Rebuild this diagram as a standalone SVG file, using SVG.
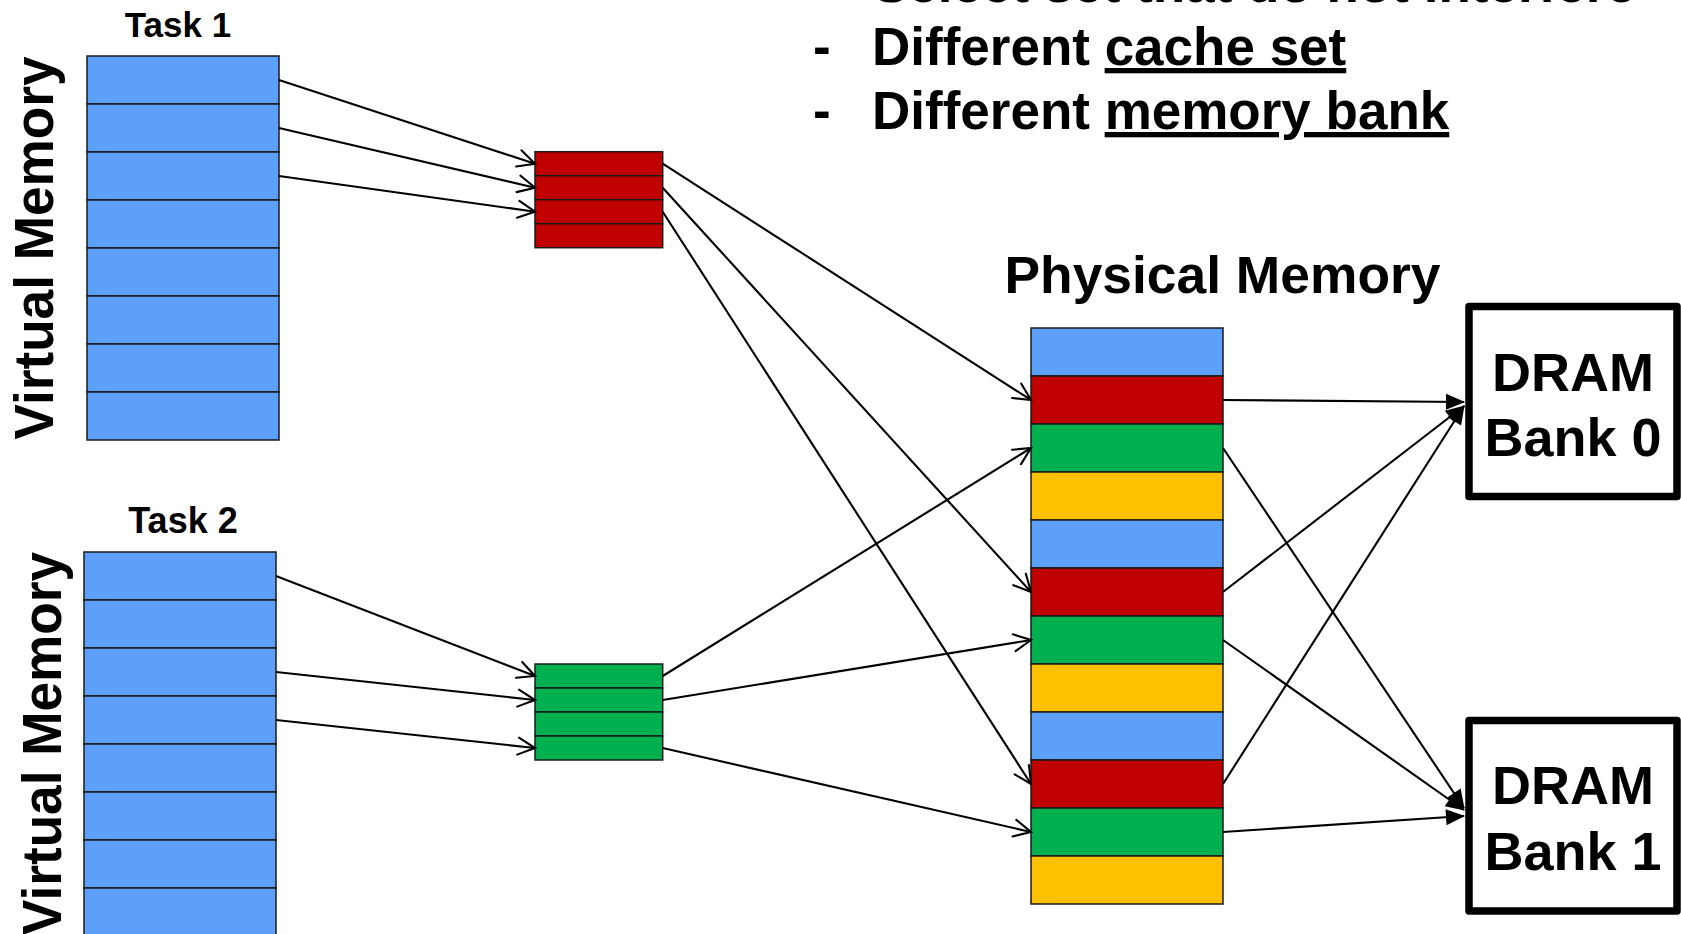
<svg xmlns="http://www.w3.org/2000/svg" width="1681" height="934" viewBox="0 0 1681 934">
  <style>
    .lbl { font-family: "Liberation Sans", Arial, sans-serif; font-weight: bold; fill: #000; }
    .blue { fill: #5CA0FC; }
    .red { fill: #C00000; }
    .green { fill: #00B050; }
    .yellow { fill: #FFC000; }
    .cell { stroke: #1a1a1a; stroke-width: 1.5; }
    .wire { fill: none; stroke: #000; stroke-width: 2.1; }
    .open { marker-end: url(#arrowOpen); }
    .solid { marker-end: url(#arrowSolid); }
    .bank { fill: #fff; stroke: #000; stroke-width: 7.5; stroke-linejoin: round; }
  </style>
  <defs>
    <marker id="arrowOpen" markerUnits="userSpaceOnUse" viewBox="-20 -11 23 22" refX="0" refY="0" markerWidth="23" markerHeight="22" orient="auto">
      <path d="M-17,-8.5 L0,0 L-17,8.5" fill="none" stroke="#000" stroke-width="2.1" stroke-linecap="round"/>
    </marker>
    <marker id="arrowSolid" markerUnits="userSpaceOnUse" viewBox="-20 -10 22 20" refX="0" refY="0" markerWidth="22" markerHeight="20" orient="auto">
      <path d="M-18,-8 L1,0 L-18,8 Z" fill="#000"/>
    </marker>
  </defs>

  <rect width="1681" height="934" fill="#fff"/>

  <!-- bullet text -->
  <g id="notes">
    <text class="lbl" x="873" y="1.5" font-size="53">Select set that do not interfere</text>
    <text class="lbl" x="813" y="65" font-size="53">-</text>
    <text class="lbl" x="872" y="65" font-size="53">Different <tspan text-decoration="underline">cache set</tspan></text>
    <text class="lbl" x="813" y="129" font-size="53">-</text>
    <text class="lbl" x="872" y="129" font-size="53">Different <tspan text-decoration="underline">memory bank</tspan></text>
  </g>

  <!-- Task 1 virtual memory -->
  <g id="task1">
    <text class="lbl" x="178" y="36.5" font-size="35" text-anchor="middle">Task 1</text>
    <text class="lbl" font-size="55" text-anchor="middle" textLength="383" lengthAdjust="spacingAndGlyphs" transform="translate(53 248) rotate(-90)">Virtual Memory</text>
    <g class="blue cell">
      <rect x="87" y="56" width="192" height="48"/>
      <rect x="87" y="104" width="192" height="48"/>
      <rect x="87" y="152" width="192" height="48"/>
      <rect x="87" y="200" width="192" height="48"/>
      <rect x="87" y="248" width="192" height="48"/>
      <rect x="87" y="296" width="192" height="48"/>
      <rect x="87" y="344" width="192" height="48"/>
      <rect x="87" y="392" width="192" height="48"/>
    </g>
  </g>

  <!-- Task 2 virtual memory -->
  <g id="task2">
    <text class="lbl" x="183" y="533" font-size="36" text-anchor="middle">Task 2</text>
    <text class="lbl" font-size="55" text-anchor="middle" textLength="383" lengthAdjust="spacingAndGlyphs" transform="translate(60.5 743.5) rotate(-90)">Virtual Memory</text>
    <g class="blue cell">
      <rect x="84" y="552" width="192" height="48"/>
      <rect x="84" y="600" width="192" height="48"/>
      <rect x="84" y="648" width="192" height="48"/>
      <rect x="84" y="696" width="192" height="48"/>
      <rect x="84" y="744" width="192" height="48"/>
      <rect x="84" y="792" width="192" height="48"/>
      <rect x="84" y="840" width="192" height="48"/>
      <rect x="84" y="888" width="192" height="48"/>
    </g>
  </g>

  <!-- cache sets -->
  <g id="cacheRed" class="red cell">
    <rect x="535" y="151.7" width="127.7" height="24"/>
    <rect x="535" y="175.7" width="127.7" height="24"/>
    <rect x="535" y="199.7" width="127.7" height="24"/>
    <rect x="535" y="223.7" width="127.7" height="24"/>
  </g>
  <g id="cacheGreen" class="green cell">
    <rect x="535" y="664" width="127.7" height="24"/>
    <rect x="535" y="688" width="127.7" height="24"/>
    <rect x="535" y="712" width="127.7" height="24"/>
    <rect x="535" y="736" width="127.7" height="24"/>
  </g>

  <!-- physical memory -->
  <g id="physical">
    <text class="lbl" x="1004.5" y="293" font-size="51" textLength="436" lengthAdjust="spacingAndGlyphs">Physical Memory</text>
    <g class="cell">
      <rect class="blue" x="1031" y="328" width="192" height="48"/>
      <rect class="red" x="1031" y="376" width="192" height="48"/>
      <rect class="green" x="1031" y="424" width="192" height="48"/>
      <rect class="yellow" x="1031" y="472" width="192" height="48"/>
      <rect class="blue" x="1031" y="520" width="192" height="48"/>
      <rect class="red" x="1031" y="568" width="192" height="48"/>
      <rect class="green" x="1031" y="616" width="192" height="48"/>
      <rect class="yellow" x="1031" y="664" width="192" height="48"/>
      <rect class="blue" x="1031" y="712" width="192" height="48"/>
      <rect class="red" x="1031" y="760" width="192" height="48"/>
      <rect class="green" x="1031" y="808" width="192" height="48"/>
      <rect class="yellow" x="1031" y="856" width="192" height="48"/>
    </g>
  </g>

  <!-- DRAM banks -->
  <g id="bank0">
    <rect class="bank" x="1469" y="306.5" width="208" height="190"/>
    <text class="lbl" x="1573" y="391" font-size="54" text-anchor="middle">DRAM</text>
    <text class="lbl" x="1573" y="456" font-size="54" text-anchor="middle">Bank 0</text>
  </g>
  <g id="bank1">
    <rect class="bank" x="1469" y="720.5" width="208" height="190.5"/>
    <text class="lbl" x="1573" y="804" font-size="54" text-anchor="middle">DRAM</text>
    <text class="lbl" x="1573" y="870" font-size="54" text-anchor="middle">Bank 1</text>
  </g>

  <!-- connectors -->
  <g id="connectors" class="wire">
    <path class="open" d="M279,80 L535,163.7"/>
    <path class="open" d="M279,128 L535,187.7"/>
    <path class="open" d="M279,176 L535,211.7"/>
    <path class="open" d="M276,576 L535,676"/>
    <path class="open" d="M276,672 L535,700"/>
    <path class="open" d="M276,720 L535,748"/>
    <path class="open" d="M662.7,163.7 L1031,400"/>
    <path class="open" d="M662.7,187.7 L1031,592"/>
    <path class="open" d="M662.7,211.7 L1031,784"/>
    <path class="open" d="M662.7,676 L1031,448"/>
    <path class="open" d="M662.7,700 L1031,640"/>
    <path class="open" d="M662.7,748 L1031,832"/>
    <path class="solid" d="M1223,400 L1464,402"/>
    <path class="solid" d="M1223,448 L1464,808"/>
    <path class="solid" d="M1223,592 L1464,406"/>
    <path class="solid" d="M1223,640 L1464,810"/>
    <path class="solid" d="M1223,784 L1464,406"/>
    <path class="solid" d="M1223,832 L1464,816"/>
  </g>
</svg>
